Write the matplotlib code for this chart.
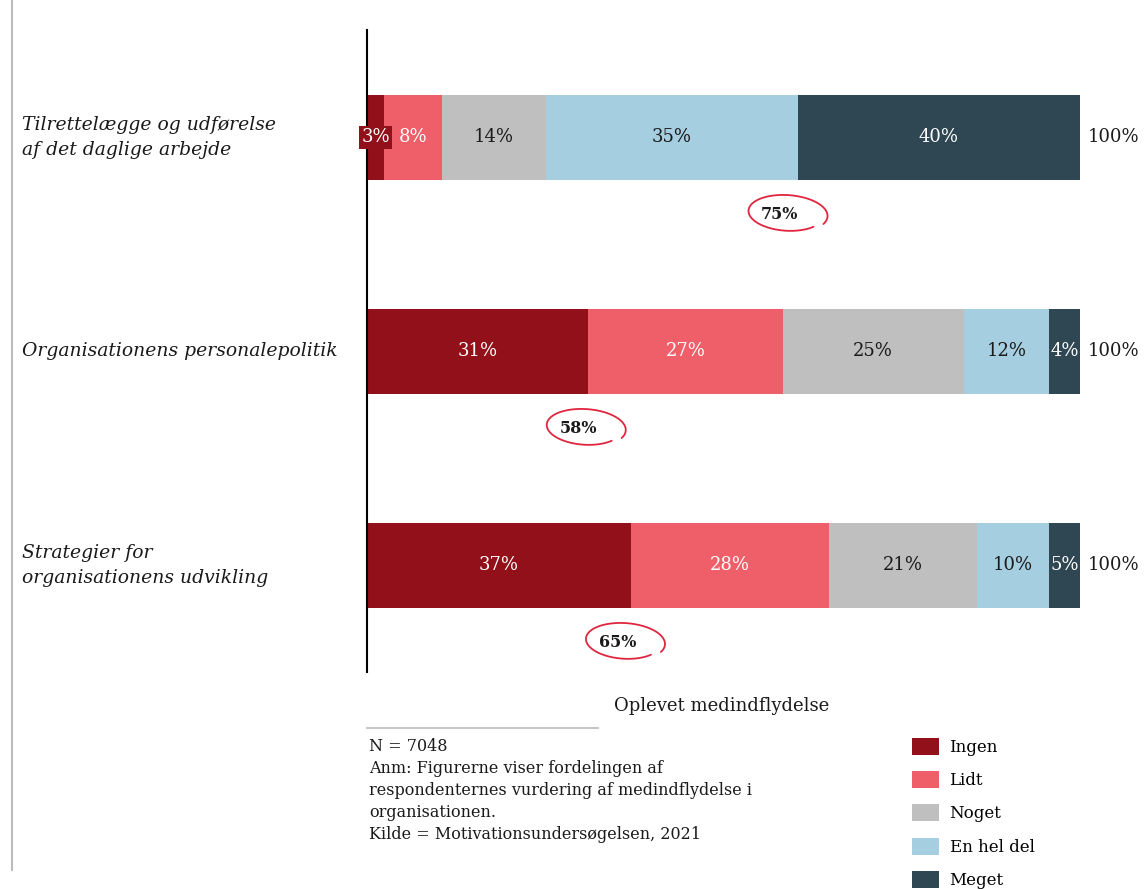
import numpy as np
import matplotlib
matplotlib.use('Agg')
import matplotlib.pyplot as plt
from matplotlib.patches import Patch

plt.rcParams['font.family'] = ['DejaVu Serif']

# Data
categories = ['Tilrettelægge og udførelse\naf det daglige arbejde',
              'Organisationens personalepolitik',
              'Strategier for\norganisationens udvikling']
levels = ['Ingen', 'Lidt', 'Noget', 'En hel del', 'Meget']
ingen = [2.4, 31.0, 37.0]
lidt = [8.1, 27.3, 27.8]
noget = [14.6, 25.4, 20.8]
en_hel_del = [35.3, 12.0, 10.0]
meget = [39.6, 4.3, 4.4]
shown = [['3%', '8%', '14%', '35%', '40%'],
         ['31%', '27%', '25%', '12%', '4%'],
         ['37%', '28%', '21%', '10%', '5%']]
totals = ['100%', '100%', '100%']
circled = ['75%', '58%', '65%']
circled_x = [57.9, 29.6, 35.1]

colors = ['#911019', '#EE5F69', '#BFBFBF', '#A5CEE1', '#2F4653']
txt_colors = ['white', 'white', '#1a1a1a', '#1a1a1a', 'white']

W, H = 1146, 889
fig = plt.figure(figsize=(W / 100, H / 100), dpi=100)

def fx(px):
    return px / W

def fy(py):
    return 1 - py / H

ax = fig.add_axes([fx(367), fy(672), fx(1080) - fx(367), (672 - 30) / H])

series = [ingen, lidt, noget, en_hel_del, meget]
y = np.arange(len(categories))
left = np.zeros(len(categories))
for i, vals in enumerate(series):
    vals = np.array(vals)
    ax.barh(y, vals, left=left, height=0.397, color=colors[i], label=levels[i])
    for j in range(len(categories)):
        xc = left[j] + vals[j] / 2
        if vals[j] < 3:
            ax.text(xc, y[j], shown[j][i], ha='center', va='center', color='white',
                    fontsize=13, bbox=dict(boxstyle='square,pad=0.12', fc=colors[i], ec='none'))
        else:
            ax.text(xc, y[j], shown[j][i], ha='center', va='center',
                    color=txt_colors[i], fontsize=13)
    left = left + vals

# hand-drawn style ring around the sums (open at lower right, curls inward)
t = np.radians(np.linspace(-25, 318, 200))
shrink = np.linspace(1.0, 0.9, t.size)
tilt = np.radians(-4)
for j in range(len(categories)):
    ax.text(left[j] + 1.1, y[j], totals[j], ha='left', va='center', fontsize=13, color='#1a1a1a')
    cy = y[j] + 0.36
    ax.text(circled_x[j], cy, circled[j], ha='center', va='center', fontsize=11.5,
            fontweight='bold', color='#1a1a1a')
    ex = 41 * np.cos(t) * shrink
    ey = 19 * np.sin(t) * shrink
    rx = ex * np.cos(tilt) - ey * np.sin(tilt)
    ry = ex * np.sin(tilt) + ey * np.cos(tilt)
    ax.plot(circled_x[j] + 1.0 + rx * 100 / 713, cy - 0.005 - ry / 214,
            color='#E0263F', lw=1.3, clip_on=False, solid_capstyle='round')

ax.set_xlim(0, 100)
ax.set_ylim(2.498, -0.502)
for s in ['top', 'right', 'bottom']:
    ax.spines[s].set_visible(False)
ax.spines['left'].set_linewidth(1.5)
ax.spines['left'].set_color('black')
ax.set_xticks([])
ax.set_yticks([])

# category labels
for j, cat in enumerate(categories):
    ypx = 137.5 + 214 * j
    fig.text(fx(22), fy(ypx), cat, ha='left', va='center', fontsize=13.5,
             style='italic', color='#1a1a1a', linespacing=1.5)

fig.text(fx(722), fy(706), 'Oplevet medindflydelse', ha='center', va='center',
         fontsize=13, color='#1a1a1a')

# left border line and note separator
fig.add_artist(plt.Line2D([fx(12), fx(12)], [fy(0), fy(870)], color='#BBBBBB', lw=1.5))
fig.add_artist(plt.Line2D([fx(367), fx(598)], [fy(728), fy(728)], color='#BBBBBB', lw=1.2))

note = ('N = 7048\n'
        'Anm: Figurerne viser fordelingen af\n'
        'respondenternes vurdering af medindflydelse i\n'
        'organisationen.\n'
        'Kilde = Motivationsundersøgelsen, 2021')
fig.text(fx(369), fy(738), note, ha='left', va='top', fontsize=11.5,
         color='#1a1a1a', linespacing=1.38)

handles = [Patch(facecolor=c, edgecolor='none') for c in colors]
fig.legend(handles, levels, loc='upper left', bbox_to_anchor=(fx(912), fy(738)),
           frameon=False, fontsize=12, handlelength=1.6, handleheight=1.2,
           handletextpad=0.65, labelspacing=0.9, borderaxespad=0, borderpad=0)

fig.savefig('out.png', dpi=100)
